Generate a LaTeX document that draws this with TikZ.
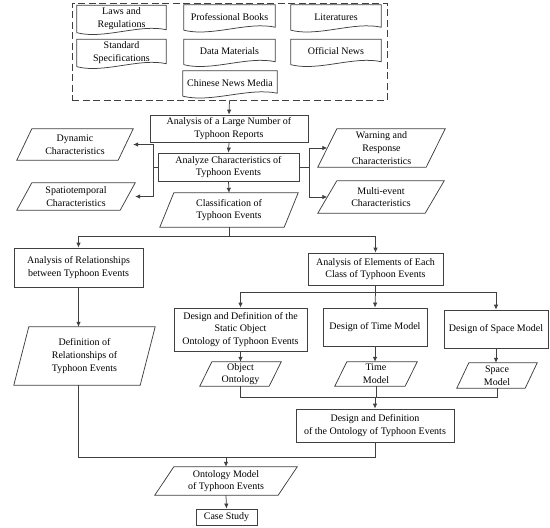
\documentclass[tikz,border=0pt]{standalone}
\usepackage{fontspec}
\setmainfont{Liberation Serif}
\usetikzlibrary{arrows.meta,calc}
\definecolor{lc}{HTML}{404040}
\newcommand\drawpara[2]{\draw[ln] ([xshift=#2pt]#1.north west) -- (#1.north east) -- ([xshift=-#2pt]#1.south east) -- (#1.south west) -- cycle;}
\newcommand\drawdoc[1]{\draw[ln] ([yshift=-1pt]#1.south west) -- (#1.north west) -- (#1.north east) -- ([yshift=2pt]#1.south east) .. controls ($(#1.south west)!0.7!(#1.south east)+(0,-8)$) and ($(#1.south west)!0.3!(#1.south east)+(0,8)$) .. ([yshift=-1pt]#1.south west);}
\begin{document}
\begin{tikzpicture}[x=1pt,y=-1pt,
  every node/.style={font=\fontsize{10}{12.7}\selectfont, align=center, inner sep=0pt, text=black},
  ln/.style={draw=lc, line width=0.75pt},
  box/.style={draw=lc, line width=0.75pt},
  docn/.style={minimum height=24pt},
  arr/.style={draw=lc, line width=0.75pt, -{Latex[length=5pt,width=4.5pt]}}]
\useasboundingbox (0,0) rectangle (550,528);

% source group
\node[draw=lc, line width=0.75pt, dash pattern=on 7pt off 3.5pt, minimum width=315pt, minimum height=97pt] (src) at (229.5,51.5) {};
\node[docn, minimum width=89pt, minimum height=26pt] (laws) at (121.5,18.5) {Laws and\\Regulations};
\node[docn, minimum width=89pt, minimum height=26pt] (std) at (121.5,52.5) {Standard\\Specifications};
\node[docn, minimum width=91pt] (books) at (229.5,17) {Professional Books};
\node[docn, minimum width=90pt] (lit) at (336,17) {Literatures};
\node[docn, minimum width=91pt] (data) at (229.5,51.5) {Data Materials};
\node[docn, minimum width=90pt] (onews) at (336,51.5) {Official News};
\node[docn, minimum width=94pt] (media) at (230,83) {Chinese News Media};
\drawdoc{laws}\drawdoc{std}\drawdoc{books}\drawdoc{lit}\drawdoc{data}\drawdoc{onews}\drawdoc{media}

% main column
\node[box, minimum width=158pt, minimum height=27pt] (rep) at (229,128.5) {Analysis of a Large Number of\\Typhoon Reports};
\node[box, minimum width=141pt, minimum height=28pt] (ana) at (228.5,167) {Analyze Characteristics of\\Typhoon Events};
\node[minimum width=138pt, minimum height=34pt] (cls) at (229,210) {Classification of\\Typhoon Events};
\drawpara{cls}{14}

\node[minimum width=116pt, minimum height=31pt] (dyn) at (75,144.5) {Dynamic\\Characteristics};
\drawpara{dyn}{15}
\node[minimum width=118pt, minimum height=27pt] (spt) at (76,196.5) {Spatiotemporal\\Characteristics};
\drawpara{spt}{15}
\node[minimum width=127pt, minimum height=38pt] (warn) at (381.5,148) {Warning and\\Response\\Characteristics};
\drawpara{warn}{19}
\node[minimum width=126pt, minimum height=32pt] (multi) at (381,197) {Multi-event\\Characteristics};
\drawpara{multi}{19}

\node[box, minimum width=129pt, minimum height=39pt] (rel) at (78.5,267.5) {Analysis of Relationships\\between Typhoon Events};
\node[box, minimum width=135pt, minimum height=32pt] (ele) at (375.5,269) {Analysis of Elements of Each\\Class of Typhoon Events};

\node[box, minimum width=133pt, minimum height=43pt] (sobj) at (240.5,329.5) {Design and Definition of the\\Static Object\\Ontology of Typhoon Events};
\node[box, minimum width=104pt, minimum height=38pt] (tmod) at (375,327) {Design of Time Model};
\node[box, minimum width=104pt, minimum height=38pt] (smod) at (496,329) {Design of Space Model};

\node[minimum width=81pt, minimum height=24pt] (oont) at (240.5,374) {Object\\Ontology};
\drawpara{oont}{12}
\node[minimum width=82pt, minimum height=24pt] (time) at (376,374) {Time\\Model};
\drawpara{time}{12}
\node[minimum width=80pt, minimum height=25pt] (space) at (497,375.5) {Space\\Model};
\drawpara{space}{12}

\node[minimum width=141pt, minimum height=58pt] (defrel) at (84.5,356) {Definition of\\Relationships of\\Typhoon Events};
\drawpara{defrel}{15}

\node[box, minimum width=158pt, minimum height=33pt] (dont) at (375,425.5) {Design and Definition\\of the Ontology of Typhoon Events};
\node[minimum width=142pt, minimum height=28pt] (omod) at (226,481) {Ontology Model\\of Typhoon Events};
\drawpara{omod}{19}
\node[box, minimum width=61pt, minimum height=16pt] (case) at (226.5,517) {Case Study};

% junction coordinates
\coordinate (jl) at (153,167);
\coordinate (jr) at (309,167);
\coordinate (jc) at (229,236);
\coordinate (je) at (375.5,292);
\coordinate (jb) at (375,397);
\coordinate (jd) at (375,457);

% connectors
\draw[arr] (src.south) -- (rep.north);
\draw[arr] (rep.south) -- (ana.north);
\draw[arr] (ana.south) -- (cls.north);
\draw[ln] (ana.west) -- (jl);
\draw[arr] (jl) |- (dyn.east);
\draw[arr] (jl) |- (spt.east);
\draw[ln] (ana.east) -- (jr);
\draw[arr] (jr) |- ([xshift=9.5pt]warn.west);
\draw[arr] (jr) |- ([xshift=9.5pt]multi.west);
\draw[ln] (cls.south) -- (jc);
\draw[arr] (jc) -| (rel.north);
\draw[arr] (jc) -| (ele.north);
\draw[arr] (rel.south) -- (rel.south |- defrel.north);
\draw[ln] (ele.south) -- (je);
\draw[arr] (je) -| (sobj.north);
\draw[arr] (je) -- (tmod.north);
\draw[arr] (je) -| (smod.north);
\draw[arr] (sobj.south) -- (oont.north);
\draw[arr] (tmod.south) -- (tmod.south |- time.north);
\draw[arr] (smod.south) -- (smod.south |- space.north);
\draw[ln] (oont.south) |- (space.south |- jb) -- (space.south);
\draw[ln] (time.south) -- (time.south |- jb);
\draw[arr] (jb) -- (dont.north);
\draw[ln] (rel.south |- defrel.south) |- (jd) -- (dont.south);
\draw[arr] (omod.north |- jd) -- (omod.north);
\draw[arr] (omod.south) -- (case.north);
\end{tikzpicture}
\end{document}
